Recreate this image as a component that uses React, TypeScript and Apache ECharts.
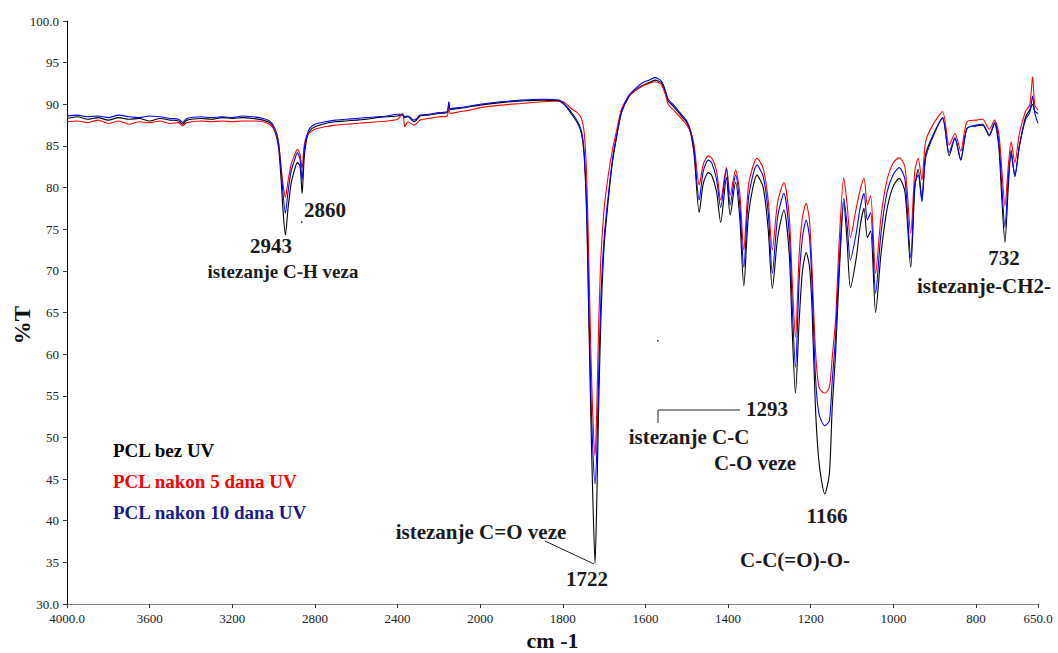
import React, { useEffect, useRef } from "react";
import * as echarts from "echarts";

// wavenumbers (cm-1)
const wavenumbers = [
  4000, 3950, 3900, 3850, 3800, 3750, 3700, 3650, 3600, 3550, 3500, 3460, 3440, 3420, 3350, 3300, 3250, 3200, 3150, 3100, 3050, 3020,
  3000, 2985, 2975, 2965, 2955, 2943, 2930, 2915, 2900, 2885, 2872, 2862, 2852, 2840, 2825, 2800, 2750, 2700, 2650, 2600, 2550, 2500,
  2450, 2400, 2375, 2365, 2350, 2320, 2290, 2250, 2200, 2160, 2152, 2145, 2100, 2050, 2000, 1950, 1900, 1850, 1810, 1795, 1780, 1765,
  1755, 1748, 1742, 1737, 1732, 1727, 1722, 1718, 1714, 1708, 1700, 1690, 1680, 1670, 1658, 1640, 1626, 1610, 1592, 1577, 1562, 1552,
  1545, 1530, 1515, 1500, 1490, 1482, 1470, 1460, 1448, 1440, 1428, 1418, 1404, 1395, 1382, 1372, 1362, 1350, 1330, 1315, 1303, 1293,
  1280, 1265, 1252, 1245, 1237, 1228, 1220, 1211, 1203, 1197, 1189, 1180, 1166, 1155, 1148, 1140, 1131, 1120, 1112, 1104, 1090, 1080,
  1071, 1063, 1055, 1043, 1030, 1015, 1000, 986, 972, 958, 948, 940, 931, 922, 905, 881, 865, 851, 837, 822, 800, 784, 768, 755, 745,
  738, 730, 722, 715, 706, 695, 680, 670, 663, 658, 650,
];

// %T, PCL bez UV
const pclBezUV = [
  88.3, 88.5, 88.2, 88.4, 88.1, 88.4, 88.2, 88.3, 88.0, 88.3, 88.1, 88.0, 87.6, 88.1, 88.3, 88.2, 88.4, 88.3, 88.4, 88.3, 88.1, 87.8,
  87.1, 86.0, 84.6, 81.5, 77.5, 74.3, 77.5, 80.5, 82.0, 83.0, 82.6, 79.3, 83.5, 85.8, 86.8, 87.3, 87.7, 87.9, 88.0, 88.1, 88.2, 88.4,
  88.5, 88.6, 88.7, 88.4, 88.5, 87.9, 88.6, 88.7, 88.9, 89.0, 90.2, 89.4, 89.5, 89.7, 89.9, 90.2, 90.4, 90.5, 90.4, 89.9, 88.9, 87.8,
  86.5, 83.5, 76.0, 64.0, 52.0, 42.0, 34.9, 42.0, 52.0, 64.0, 73.0, 78.5, 83.0, 86.0, 89.0, 90.9, 91.6, 92.2, 92.6, 92.9, 92.6, 91.5,
  90.4, 89.6, 88.7, 87.8, 86.4, 83.8, 77.0, 80.5, 81.8, 81.5, 79.5, 75.8, 81.2, 76.7, 80.6, 76.5, 68.2, 77.0, 81.5, 80.0, 75.0, 67.9,
  74.0, 77.3, 72.0, 63.0, 55.3, 64.0, 70.0, 72.2, 70.5, 65.6, 54.0, 47.0, 43.2, 45.6, 53.6, 60.0, 69.7, 78.2, 73.5, 68.0, 71.5, 75.5,
  77.5, 74.0, 74.8, 65.0, 72.0, 77.5, 80.2, 81.1, 79.5, 70.4, 80.0, 82.2, 78.7, 84.0, 86.2, 88.4, 83.8, 85.9, 83.3, 87.1, 87.4, 87.5,
  86.2, 87.7, 85.0, 79.0, 73.4, 80.0, 84.5, 81.3, 85.0, 88.5, 89.3, 90.0, 89.2, 88.9,
];

// %T, PCL nakon 5 dana UV
const pcl5Dana = [
  87.9, 88.0, 87.8, 88.1, 87.7, 88.0, 87.6, 87.9, 87.8, 88.0, 87.7, 87.8, 87.4, 87.8, 88.0, 87.9, 88.0, 87.9, 88.0, 88.0, 87.9, 87.6,
  87.1, 86.3, 85.2, 82.8, 80.5, 78.8, 80.8, 82.8, 83.8, 84.6, 84.0, 82.3, 85.0, 86.2, 86.6, 87.0, 87.3, 87.5, 87.6, 87.7, 87.8, 87.9,
  88.0, 88.2, 88.9, 87.3, 87.9, 87.5, 88.1, 88.3, 88.5, 88.6, 89.9, 88.9, 89.1, 89.3, 89.6, 89.9, 90.1, 90.3, 90.4, 90.2, 89.5, 89.0,
  88.3, 86.5, 81.0, 71.0, 60.0, 52.0, 47.8, 53.0, 62.0, 71.5, 77.5, 81.5, 84.5, 86.8, 89.4, 91.0, 91.6, 92.1, 92.5, 92.7, 92.4, 91.2,
  90.0, 89.2, 88.4, 87.5, 86.6, 85.0, 80.3, 82.8, 83.8, 83.6, 82.0, 78.5, 82.4, 79.1, 82.1, 79.5, 72.5, 80.5, 83.5, 82.3, 78.5, 72.5,
  78.3, 80.6, 76.5, 69.0, 62.0, 72.0, 76.5, 78.1, 76.0, 70.4, 60.8, 56.0, 55.3, 56.0, 59.6, 64.0, 73.7, 81.2, 78.0, 74.0, 77.5, 79.8,
  81.1, 77.9, 79.0, 69.7, 76.5, 81.0, 83.0, 83.6, 82.5, 74.5, 82.0, 83.5, 80.9, 85.5, 87.5, 89.1, 85.1, 86.5, 84.4, 87.9, 88.1, 88.2,
  87.0, 88.1, 86.5, 82.5, 77.8, 82.5, 85.5, 83.0, 86.5, 89.2, 89.9, 93.3, 90.0, 89.3,
];

// %T, PCL nakon 10 dana UV
const pcl10Dana = [
  88.6, 88.7, 88.5, 88.6, 88.4, 88.7, 88.5, 88.4, 88.6, 88.5, 88.3, 88.2, 87.8, 88.3, 88.5, 88.4, 88.5, 88.4, 88.6, 88.5, 88.3, 88.0,
  87.4, 86.5, 85.2, 82.5, 79.5, 76.9, 79.5, 82.0, 83.2, 84.2, 83.4, 80.9, 84.5, 86.2, 87.1, 87.6, 87.9, 88.1, 88.2, 88.3, 88.4, 88.5,
  88.6, 88.8, 88.8, 88.5, 88.6, 88.1, 88.7, 88.8, 89.0, 89.1, 90.3, 89.5, 89.6, 89.8, 90.0, 90.3, 90.5, 90.6, 90.5, 90.0, 89.1, 88.0,
  86.8, 84.0, 77.0, 66.0, 55.0, 48.0, 44.4, 48.0, 56.0, 66.5, 74.0, 79.0, 83.3, 86.2, 89.1, 91.1, 91.8, 92.5, 92.9, 93.2, 92.8, 91.7,
  90.6, 89.8, 88.9, 88.0, 86.7, 84.3, 78.5, 82.0, 83.3, 83.0, 81.0, 77.6, 82.2, 77.9, 81.5, 78.0, 70.4, 79.0, 82.7, 81.3, 77.0, 69.7,
  76.5, 79.3, 74.5, 66.0, 58.4, 69.0, 74.0, 76.1, 74.0, 68.5, 57.7, 52.8, 51.4, 52.0, 56.8, 62.0, 71.0, 78.7, 75.5, 71.3, 74.5, 77.7,
  79.3, 76.1, 77.0, 67.3, 74.5, 79.5, 81.6, 82.4, 81.0, 71.6, 80.5, 81.5, 78.3, 83.5, 86.0, 88.3, 84.2, 86.0, 83.4, 87.1, 87.5, 87.6,
  86.3, 87.8, 85.5, 80.5, 75.2, 81.0, 84.0, 81.5, 85.0, 88.2, 89.0, 91.0, 89.0, 87.7,
];

const seriesNames = ["PCL bez UV", "PCL nakon 5 dana UV", "PCL nakon 10 dana UV"];
const lineColors = ["#000000", "#ff0000", "#0000ff"];
const legendColors = ["#000000", "#ff0000", "#1a1a8c"];

// The instrument plots 4000-2000 cm-1 at half the scale of 2000-650 cm-1.
const toAxis = (w: number) => (w >= 2000 ? (4000 - w) / 400 : 5 + (2000 - w) / 200);
const fromAxis = (t: number) => (t <= 5 ? 4000 - 400 * t : 2000 - 200 * (t - 5));

const SERIF = '"Liberation Serif", "Times New Roman", serif';

export default function App() {
  const ref = useRef<HTMLDivElement>(null);
  useEffect(() => {
    if (!ref.current) return;
    const chart = echarts.init(ref.current, undefined, { renderer: "svg" });
    const allValues = [pclBezUV, pcl5Dana, pcl10Dana];
    const txt = (text: string, x: number, y: number, size = 21) => ({
      type: "text",
      x,
      y,
      style: {
        text,
        font: `bold ${size}px ${SERIF}`,
        fill: "#1a1a1a",
        textAlign: "center",
        textVerticalAlign: "middle",
      },
    });
    chart.setOption({
      animation: false,
      backgroundColor: "#ffffff",
      grid: { left: 67, right: 20, top: 21, bottom: 49, containLabel: false, outerBoundsMode: "none" },
      legend: {
        orient: "vertical",
        left: 107,
        top: 441,
        padding: 0,
        itemWidth: 0,
        itemHeight: 0,
        itemGap: 12,
        selectedMode: false,
        data: seriesNames.map((n, i) => ({
          name: n,
          textStyle: { color: legendColors[i] },
        })),
        textStyle: { fontFamily: SERIF, fontWeight: "bold", fontSize: 19, padding: [0, 0, 0, 0] },
      },
      xAxis: {
        type: "value",
        min: 0,
        max: 11.75,
        interval: 1,
        name: "cm -1",
        nameLocation: "middle",
        nameGap: 21,
        nameTextStyle: { fontFamily: SERIF, fontWeight: "bold", fontSize: 22, color: "#111" },
        axisLine: { lineStyle: { color: "#808080", width: 1 } },
        axisTick: { show: true, length: 4, lineStyle: { color: "#333" } },
        splitLine: { show: false },
        axisLabel: {
          fontFamily: SERIF,
          fontSize: 13,
          color: "#222",
          margin: 8,
          formatter: (t: number) => {
            const w = Math.round(fromAxis(t));
            return w === 4000 || w === 650 ? w.toFixed(1) : String(w);
          },
        },
      },
      yAxis: {
        type: "value",
        min: 30,
        max: 100,
        interval: 5,
        axisLine: { show: true, lineStyle: { color: "#000", width: 1 } },
        axisTick: { show: true, length: 4, lineStyle: { color: "#333" } },
        splitLine: { show: false },
        axisLabel: {
          fontFamily: SERIF,
          fontSize: 13,
          color: "#222",
          margin: 8,
          formatter: (v: number) => (v === 100 || v === 30 ? v.toFixed(1) : String(v)),
        },
      },
      series: [0, 1, 2].map((i) => ({
        name: seriesNames[i],
        type: "line",
        showSymbol: false,
        symbol: "none",
        smooth: 0.25,
        lineStyle: { color: lineColors[i], width: 1.1 },
        itemStyle: { color: lineColors[i] },
        data: wavenumbers.map((w, k) => [toAxis(w), allValues[i][k]]),
      })),
      graphic: [
        {
          type: "text",
          x: 22,
          y: 325,
          rotation: Math.PI / 2,
          style: {
            text: "%T",
            font: `bold 23px ${SERIF}`,
            fill: "#111",
            textAlign: "center",
            textVerticalAlign: "middle",
          },
        },
        txt("2860", 325, 210),
        txt("2943", 271, 246),
        txt("istezanje C-H veza", 283, 271, 19),
        txt("732", 1004, 258),
        txt("istezanje-CH2-", 984, 286),
        txt("1293", 767, 409),
        txt("istezanje C-C", 689, 437),
        txt("C-O veze", 755, 463),
        txt("1166", 827, 516),
        txt("istezanje C=O veze", 481, 532),
        txt("C-C(=O)-O-", 795, 560),
        txt("1722", 587, 579),
        {
          type: "line",
          shape: { x1: 545, y1: 541, x2: 594, y2: 564 },
          style: { stroke: "#222", lineWidth: 1 },
        },
        {
          type: "polyline",
          shape: { points: [[658, 423], [658, 410], [740, 410]] },
          style: { stroke: "#222", lineWidth: 1, fill: null },
        },
        { type: "rect", shape: { x: 657, y: 340, width: 1.5, height: 1.5 }, style: { fill: "#222" } },
        { type: "rect", shape: { x: 301, y: 221, width: 1.5, height: 2 }, style: { fill: "#555" } },
      ],
    });
    return () => chart.dispose();
  }, []);
  return (
    <div
      ref={ref}
      style={{ position: "fixed", left: 0, top: 0, width: 1058, height: 653, background: "#fff" }}
    />
  );
}
